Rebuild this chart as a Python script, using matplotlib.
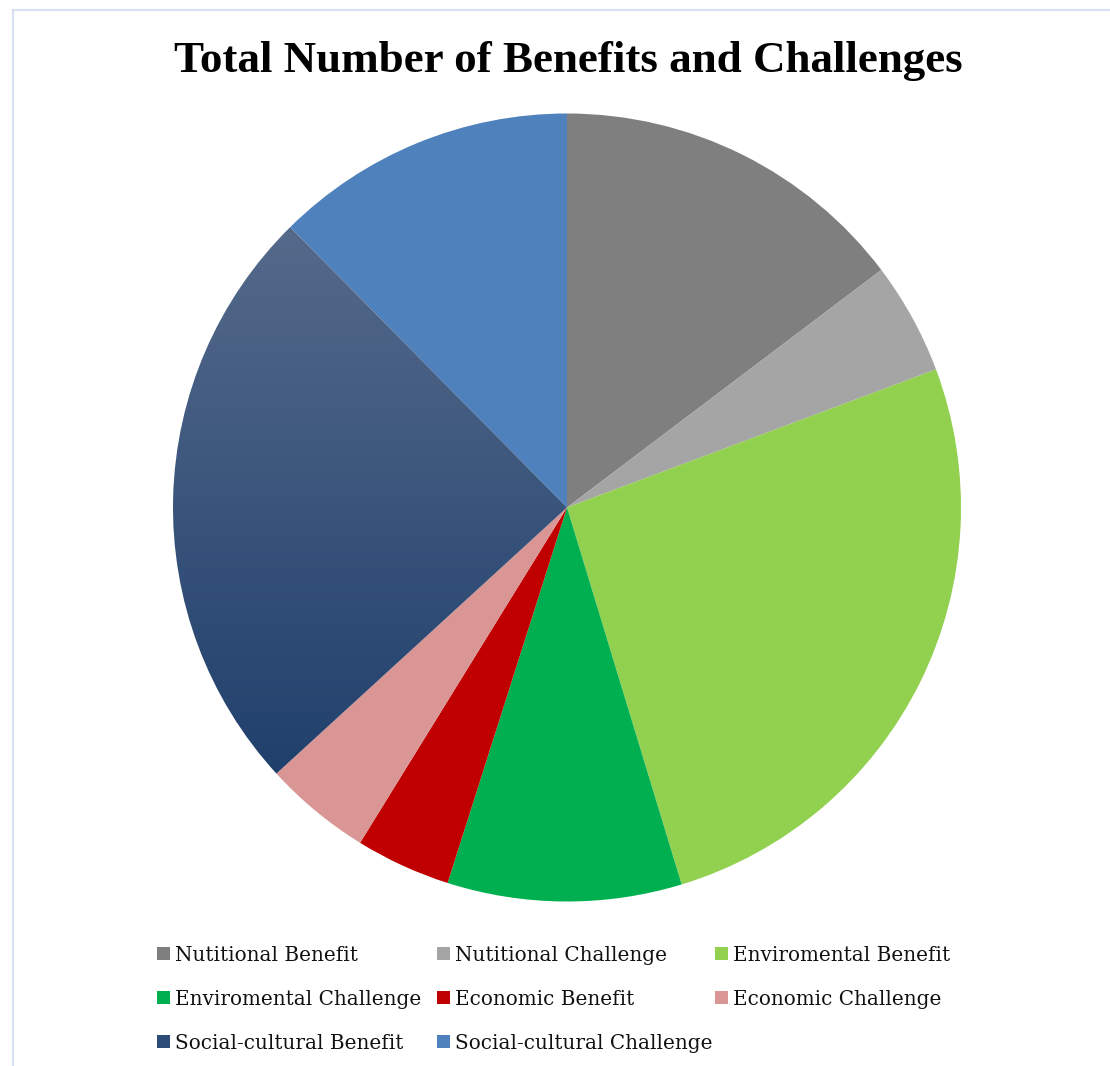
import matplotlib
matplotlib.use("Agg")
import matplotlib.pyplot as plt
import numpy as np
from matplotlib.lines import Line2D
from matplotlib.patches import Rectangle
from matplotlib.colors import LinearSegmentedColormap

categories = ["Nutitional Benefit", "Nutitional Challenge", "Enviromental Benefit",
              "Enviromental Challenge", "Economic Benefit", "Economic Challenge",
              "Social-cultural Benefit", "Social-cultural Challenge"]
values = [14.7, 4.6, 26.0, 9.6, 3.9, 4.4, 24.4, 12.4]
colors = ["#7F7F7F", "#A5A5A5", "#92D050", "#00B050", "#C00000", "#D99694",
          "#2C4C78", "#4F81BD"]
gradient_top = "#556A8B"
gradient_bottom = "#20406C"
title = "Total Number of Benefits and Challenges"

W, H = 1110, 1066
fig = plt.figure(figsize=(W / 100, H / 100), dpi=100)
fig.patch.set_facecolor("white")

cx, cy, r = 567, 507.5, 394
ax = fig.add_axes([(cx - r) / W, 1 - (cy + r) / H, 2 * r / W, 2 * r / H])
wedges, _ = ax.pie(values, colors=colors, startangle=90, counterclock=False,
                   radius=1.0, wedgeprops=dict(linewidth=0))
ax.set_xlim(-1, 1)
ax.set_ylim(-1, 1)
ax.set_aspect("auto")
ax.axis("off")

# gradient fill for the Social-cultural Benefit wedge
w = wedges[6]
ext = w.get_path().get_extents()
cmap = LinearSegmentedColormap.from_list("g", [gradient_bottom, gradient_top])
grad = np.linspace(0, 1, 256).reshape(-1, 1)
im = ax.imshow(grad, cmap=cmap, origin="lower", aspect="auto",
               extent=[ext.x0, ext.x1, ext.y0, ext.y1], zorder=w.get_zorder())
im.set_clip_path(w)
w.set_facecolor("none")
ax.set_xlim(-1, 1)
ax.set_ylim(-1, 1)

fig.text(568 / W, 1 - 72 / H, title, ha="center", va="baseline",
         fontsize=32.4, fontweight="bold", family="Liberation Serif")

# legend (3 columns)
col_x = [157, 437, 715]
row_y = [953, 997, 1041]
sq = 13
for i, (lab, col) in enumerate(zip(categories, colors)):
    rr, cc = divmod(i, 3)
    x0, y0 = col_x[cc], row_y[rr]
    fc = col
    fig.patches.append(Rectangle((x0 / W, 1 - (y0 + sq / 2) / H), sq / W, sq / H,
                                 transform=fig.transFigure, facecolor=fc,
                                 edgecolor="none"))
    fig.text((x0 + 18) / W, 1 - (y0 + 8) / H, lab, ha="left", va="baseline",
             fontsize=14.4, family="DejaVu Serif", color="#111111")

bc = "#D6E2F3"
fig.add_artist(Line2D([13 / W, 13 / W], [0, 1 - 10 / H], color=bc, lw=1.5,
                      transform=fig.transFigure))
fig.add_artist(Line2D([13 / W, 1], [1 - 10 / H, 1 - 10 / H], color=bc, lw=1.5,
                      transform=fig.transFigure))

fig.savefig("out.png", dpi=100, facecolor="white")
